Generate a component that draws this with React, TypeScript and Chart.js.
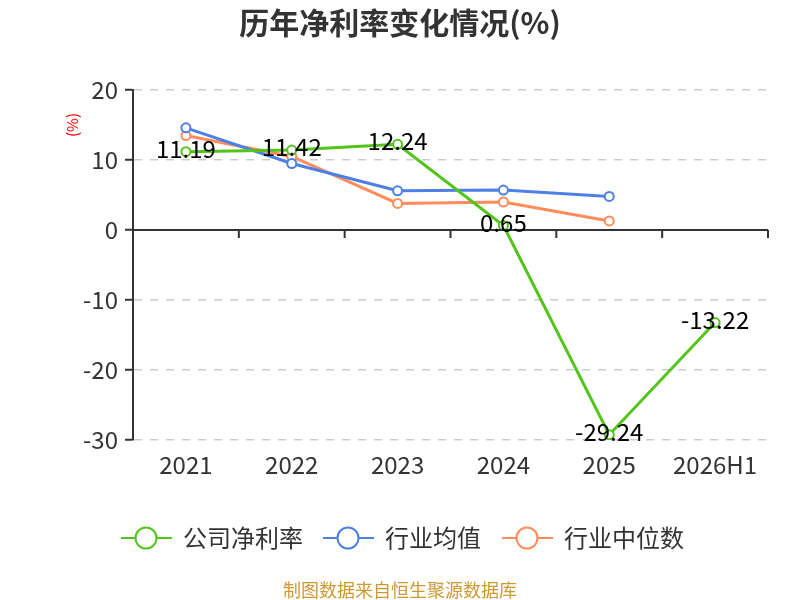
import { useEffect, useRef } from 'react';
import { Chart, ChartConfiguration, Plugin, registerables } from 'chart.js';

Chart.register(...registerables);

const categories = ['2021', '2022', '2023', '2024', '2025', '2026H1'];
const companyRate = [11.19, 11.42, 12.24, 0.65, -29.24, -13.22];
const industryAvg = [14.6, 9.5, 5.6, 5.7, 4.8, null];
const industryMedian = [13.5, 10.5, 3.8, 4.0, 1.3, null];
const seriesNames = ['公司净利率', '行业均值', '行业中位数'];
const seriesColors = ['#52c41a', '#4e80e4', '#ff8c5a'];
const yTicks = [20, 10, 0, -10, -20, -30];

const FONT = '"Noto Sans CJK SC", "Noto Sans", sans-serif';

// title, zero line, value labels, legend and footer
const decorPlugin: Plugin<'line'> = {
  id: 'decor',
  afterDraw(chart) {
    const { ctx, chartArea, scales } = chart;
    const x = scales.x;
    const y = scales.y;
    ctx.save();

    // title
    ctx.fillStyle = '#333';
    ctx.font = `bold 30px ${FONT}`;
    ctx.textAlign = 'center';
    ctx.textBaseline = 'middle';
    ctx.fillText('历年净利率变化情况(%)', 400, 23);

    // unit label
    ctx.save();
    ctx.translate(72, 125);
    ctx.rotate(-Math.PI / 2);
    ctx.fillStyle = '#ff0000';
    ctx.font = `15px ${FONT}`;
    ctx.fillText('(%)', 0, 0);
    ctx.restore();

    // zero line with ticks on category boundaries
    const y0 = y.getPixelForValue(0);
    ctx.strokeStyle = '#333';
    ctx.lineWidth = 2;
    ctx.beginPath();
    ctx.moveTo(chartArea.left, y0);
    ctx.lineTo(chartArea.right, y0);
    const step = (chartArea.right - chartArea.left) / categories.length;
    for (let i = 1; i <= categories.length; i++) {
      const px = chartArea.left + step * i;
      ctx.moveTo(px, y0);
      ctx.lineTo(px, y0 + 8);
    }
    ctx.stroke();

    // value labels for company series
    ctx.fillStyle = '#000';
    ctx.font = `24px ${FONT}`;
    companyRate.forEach((v, i) => {
      ctx.fillText(v.toFixed(2), x.getPixelForValue(i), y.getPixelForValue(v) - 3);
    });

    // legend
    const legendX = [121, 323, 502];
    seriesNames.forEach((name, i) => {
      const lx = legendX[i];
      const ly = 538;
      ctx.strokeStyle = seriesColors[i];
      ctx.lineWidth = 2;
      ctx.beginPath();
      ctx.moveTo(lx, ly);
      ctx.lineTo(lx + 51, ly);
      ctx.stroke();
      ctx.beginPath();
      ctx.arc(lx + 25, ly, 10.5, 0, Math.PI * 2);
      ctx.fillStyle = '#fff';
      ctx.fill();
      ctx.stroke();
      ctx.fillStyle = '#333';
      ctx.font = `24px ${FONT}`;
      ctx.textAlign = 'left';
      ctx.fillText(name, lx + 62, ly);
    });

    // footer
    ctx.textAlign = 'center';
    ctx.fillStyle = '#cc9933';
    ctx.font = `18px ${FONT}`;
    ctx.fillText('制图数据来自恒生聚源数据库', 400, 590);

    ctx.restore();
  },
};

export default function App() {
  const canvasRef = useRef<HTMLCanvasElement>(null);
  const chartRef = useRef<Chart | null>(null);

  useEffect(() => {
    document.body.style.margin = '0';
    if (!canvasRef.current) return;
    if (chartRef.current) chartRef.current.destroy();

    const makeSet = (label: string, data: (number | null)[], color: string) => ({
      label,
      data,
      borderColor: color,
      backgroundColor: '#fff',
      borderWidth: 3,
      pointRadius: 4.5,
      pointBorderWidth: 2,
      pointBackgroundColor: '#fff',
      pointBorderColor: color,
      tension: 0,
      spanGaps: false,
    });

    const config: ChartConfiguration<'line'> = {
      type: 'line',
      data: {
        labels: categories,
        datasets: [
          makeSet(seriesNames[0], companyRate, seriesColors[0]),
          makeSet(seriesNames[1], industryAvg, seriesColors[1]),
          makeSet(seriesNames[2], industryMedian, seriesColors[2]),
        ],
      },
      options: {
        responsive: false,
        animation: false,
        layout: { padding: { top: 90, right: 32, bottom: 110, left: 0 } },
        scales: {
          x: {
            offset: true,
            grid: { display: false },
            border: { display: false },
            ticks: { color: '#333', font: { size: 24, family: FONT }, padding: 2 },
            afterFit: (s) => { s.height = 50; },
          },
          y: {
            min: -30,
            max: 20,
            afterBuildTicks: (s) => { s.ticks = yTicks.map((v) => ({ value: v })); },
            grid: {
              color: '#cccccc',
              lineWidth: 1.5,
              tickLength: 8,
              tickWidth: 2,
              tickBorderDash: [],
              tickColor: '#333',
            },
            border: { display: true, color: '#333', width: 2, dash: [8, 8] },
            ticks: { color: '#333', font: { size: 24, family: FONT }, padding: 7 },
            afterFit: (s) => { s.width = 133; },
          },
        },
        plugins: {
          legend: { display: false },
          tooltip: { enabled: false },
        },
      },
      plugins: [decorPlugin],
    };

    chartRef.current = new Chart(canvasRef.current, config);
    return () => {
      chartRef.current?.destroy();
      chartRef.current = null;
    };
  }, []);

  return <canvas ref={canvasRef} width={800} height={600} />;
}
